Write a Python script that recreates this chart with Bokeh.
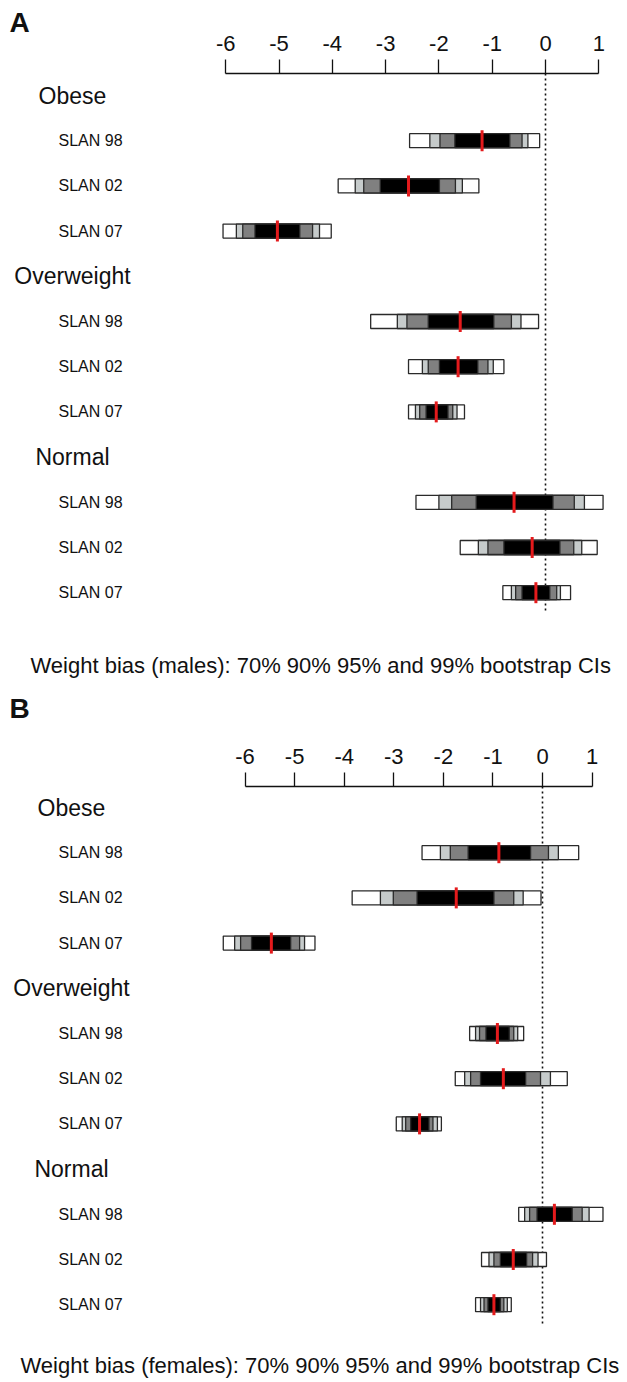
from bokeh.plotting import figure
from bokeh.layouts import column
from bokeh.models import LinearAxis, FixedTicker, ColumnDataSource, Range1d
from bokeh.core.properties import value
from bokeh.embed import file_html
from bokeh.resources import INLINE

# ---------------- data ----------------
groups = ["Obese", "Overweight", "Normal"]
surveys = ["SLAN 98", "SLAN 02", "SLAN 07"]
ticks = [-6, -5, -4, -3, -2, -1, 0, 1]
tick_labels = ["-6", "-5", "-4", "-3", "-2", "-1", "0", "1"]

# row order: Obese 98/02/07, Overweight 98/02/07, Normal 98/02/07
males_lo99 = [-2.55, -3.89, -6.05, -3.28, -2.57, -2.57, -2.43, -1.60, -0.80]
males_lo95 = [-2.17, -3.57, -5.80, -2.78, -2.31, -2.44, -2.00, -1.26, -0.64]
males_lo90 = [-1.98, -3.41, -5.68, -2.60, -2.20, -2.36, -1.76, -1.08, -0.56]
males_lo70 = [-1.70, -3.10, -5.45, -2.20, -1.99, -2.24, -1.30, -0.78, -0.44]
males_med = [-1.19, -2.57, -5.03, -1.60, -1.64, -2.05, -0.59, -0.25, -0.18]
males_hi70 = [-0.67, -1.99, -4.61, -0.97, -1.27, -1.83, 0.14, 0.27, 0.08]
males_hi90 = [-0.44, -1.69, -4.37, -0.64, -1.08, -1.74, 0.54, 0.53, 0.21]
males_hi95 = [-0.33, -1.56, -4.24, -0.46, -0.98, -1.66, 0.73, 0.68, 0.28]
males_hi99 = [-0.11, -1.25, -4.02, -0.13, -0.78, -1.52, 1.08, 0.97, 0.47]

females_lo99 = [-2.43, -3.84, -6.44, -1.47, -1.76, -2.95, -0.48, -1.23, -1.35]
females_lo95 = [-2.06, -3.27, -6.21, -1.35, -1.57, -2.83, -0.36, -1.08, -1.25]
females_lo90 = [-1.86, -3.01, -6.09, -1.27, -1.45, -2.76, -0.26, -0.98, -1.18]
females_lo70 = [-1.50, -2.53, -5.87, -1.14, -1.25, -2.66, -0.11, -0.85, -1.10]
females_med = [-0.88, -1.74, -5.47, -0.91, -0.79, -2.48, 0.24, -0.59, -0.98]
females_hi70 = [-0.24, -0.98, -5.08, -0.67, -0.34, -2.29, 0.60, -0.32, -0.85]
females_hi90 = [0.12, -0.58, -4.90, -0.58, -0.04, -2.21, 0.80, -0.20, -0.78]
females_hi95 = [0.32, -0.39, -4.80, -0.50, 0.16, -2.12, 0.94, -0.09, -0.71]
females_hi99 = [0.73, -0.03, -4.59, -0.38, 0.50, -2.04, 1.22, 0.08, -0.63]

caption_m = "Weight bias (males): 70% 90% 95% and 99% bootstrap CIs"
caption_f = "Weight bias (females): 70% 90% 95% and 99% bootstrap CIs"

# ---------------- style ----------------
FONT = "Liberation Sans"
W = 627
LINE_PX = 45.2
HALF_BAR = 7.0 / LINE_PX
HALF_MED = 10.5 / LINE_PX
C_WHITE, C_LIGHT, C_GRAY, C_BLACK = "#ffffff", "#c6cbcb", "#808080", "#000000"
C_EDGE = "#2a2a2a"
C_RED = "#e41a1c"
TXT = "#111111"


def make_panel(letter, caption, lo99, lo95, lo90, lo70, med, hi70, hi90, hi95, hi99,
               zero_px, unit_px, page_top, height, line0_page, axis_page,
               letter_page, caption_page, letter_px, group_px, slan_px, caption_px):
    x_start = -zero_px / unit_px
    x_end = x_start + W / unit_px

    def px_x(page_x):
        return x_start + page_x / unit_px

    def px_y(page_y):
        return (line0_page - page_y) / LINE_PX

    y_top = px_y(page_top)
    y_bottom = px_y(page_top + height)

    p = figure(width=W, height=height, x_range=Range1d(x_start, x_end),
               y_range=Range1d(y_bottom, y_top), output_backend="svg",
               toolbar_location=None, x_axis_location=None, y_axis_location=None,
               min_border=0, outline_line_color=None)
    p.grid.visible = False
    p.background_fill_color = "white"
    p.border_fill_color = "white"

    row_y = []
    row_lab = []
    grp_y = []
    for g, gname in enumerate(groups):
        grp_y.append(-(g * 4))
        for j, s in enumerate(surveys):
            row_y.append(-(g * 4 + 1 + j))
            row_lab.append(s)

    axis_y = px_y(axis_page)

    ax = LinearAxis(ticker=FixedTicker(ticks=ticks), bounds=(-6, 1), fixed_location=axis_y)
    ax.major_label_overrides = {t: lab for t, lab in zip(ticks, tick_labels)}
    ax.major_tick_in = 0
    ax.major_tick_out = 14
    ax.minor_tick_in = 0
    ax.minor_tick_out = 0
    ax.major_label_standoff = 9
    ax.major_label_text_font = FONT
    ax.major_label_text_font_size = "22px"
    ax.major_label_text_color = TXT
    ax.axis_line_color = TXT
    ax.axis_line_width = 1.3
    ax.major_tick_line_color = TXT
    ax.major_tick_line_width = 1.3
    p.add_layout(ax, "above")

    p.segment(x0=[0], x1=[0], y0=[axis_y], y1=[row_y[-1] - 0.45],
              line_color=TXT, line_width=1.6, line_dash="2 3")

    src = ColumnDataSource(dict(
        y=row_y, yb=[v - HALF_BAR for v in row_y], yt=[v + HALF_BAR for v in row_y],
        ym0=[v - HALF_MED for v in row_y], ym1=[v + HALF_MED for v in row_y],
        lo99=lo99, lo95=lo95, lo90=lo90, lo70=lo70, med=med,
        hi70=hi70, hi90=hi90, hi95=hi95, hi99=hi99))

    for lo, hi, col in (("lo99", "hi99", C_WHITE), ("lo95", "hi95", C_LIGHT),
                        ("lo90", "hi90", C_GRAY), ("lo70", "hi70", C_BLACK)):
        p.quad(left=lo, right=hi, bottom="yb", top="yt", source=src,
               fill_color=col, line_color=C_EDGE, line_width=1.3)

    p.segment(x0="med", x1="med", y0="ym0", y1="ym1", source=src,
              line_color=C_RED, line_width=3)

    p.text(x=[px_x(letter_px)], y=[px_y(letter_page)], text=[letter],
           text_font=value(FONT), text_font_size="28px", text_font_style="bold",
           text_baseline="middle", text_align="left", text_color=TXT)
    p.text(x=[px_x(group_px)] * 3, y=grp_y, text=groups,
           text_font=value(FONT), text_font_size="23px",
           text_baseline="middle", text_align="center", text_color=TXT)
    p.text(x=[px_x(slan_px)] * len(row_y), y=row_y, text=row_lab,
           text_font=value(FONT), text_font_size="16px",
           text_baseline="middle", text_align="left", text_color=TXT)
    p.text(x=[px_x(caption_px)], y=[px_y(caption_page)], text=[caption],
           text_font=value(FONT), text_font_size="22px",
           text_baseline="middle", text_align="left", text_color=TXT)
    return p


pA = make_panel("A", caption_m, males_lo99, males_lo95, males_lo90, males_lo70, males_med,
                males_hi70, males_hi90, males_hi95, males_hi99,
                zero_px=545, unit_px=53.3, page_top=0, height=682, line0_page=95,
                axis_page=73, letter_page=22, caption_page=665,
                letter_px=9, group_px=72, slan_px=58, caption_px=30)
pB = make_panel("B", caption_f, females_lo99, females_lo95, females_lo90, females_lo70, females_med,
                females_hi70, females_hi90, females_hi95, females_hi99,
                zero_px=542, unit_px=49.57, page_top=682, height=698, line0_page=807,
                axis_page=786, letter_page=708, caption_page=1365,
                letter_px=9, group_px=71, slan_px=58, caption_px=20)

layout = column(pA, pB, spacing=0)
open("out.html", "w").write(file_html(layout, INLINE))
